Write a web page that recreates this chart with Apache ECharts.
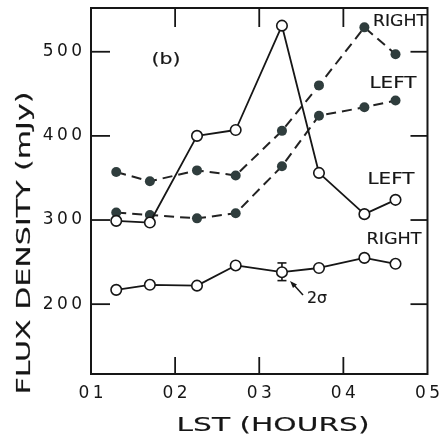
<!DOCTYPE html>
<html>
<head>
<meta charset="utf-8">
<script src="https://cdn.jsdelivr.net/npm/echarts@6/dist/echarts.min.js"></script>
<style>
  html, body { margin: 0; padding: 0; background: #fff; }
  #chart { width: 443px; height: 440px; }
</style>
</head>
<body>
<div id="chart"></div>
<script>
// Local sidereal time of each observation (hours)
const hours = [1.30, 1.70, 2.26, 2.72, 3.27, 3.71, 4.25, 4.62];
// Flux densities (mJy)
const leftOpen    = [299, 297, 400, 407, 531, 356, 307, 324];
const rightFilled = [357, 346, 359, 353, 406, 460, 529, 497];
const leftFilled  = [309, 306, 302, 308, 364, 424, 434, 442];
const rightOpen   = [217, 223, 222, 246, 238, 243, 255, 248];
// 2-sigma error bar: [hour, low, high]
const errBar = [[3.27, 228, 249]];

const xLabelValues = [1, 2, 3, 4, 5];
const xTickValues  = [2, 3, 4];
const yTickValues  = [200, 300, 400, 500];

const INK = '#161616';
const DOT = '#2f3d3d';
const FONT = '"DejaVu Sans", sans-serif';

const measureCtx = document.createElement('canvas').getContext('2d');
function stretchFor(text, size, width) {
  measureCtx.font = size + 'px ' + FONT;
  return width / measureCtx.measureText(text).width;
}
function spread(s) { return String(s).split('').join('\u2009'); }

function zip(xs, ys) { return xs.map((x, i) => [x, ys[i]]); }

function label(text, x, y, size, width, rotation) {
  return {
    type: 'text', x: x, y: y, rotation: rotation || 0,
    scaleX: width ? stretchFor(text, size, width) : 1,
    z: 20,
    style: {
      text: text, fill: INK, font: size + 'px ' + FONT,
      stroke: INK, lineWidth: 0.15,
      textAlign: 'center', textVerticalAlign: 'middle',
      align: 'center', verticalAlign: 'middle'
    }
  };
}

const openLine = (data) => ({
  type: 'line', data: data, symbol: 'circle', symbolSize: 10.5, z: 5,
  itemStyle: { color: '#fff', borderColor: INK, borderWidth: 1.6 },
  lineStyle: { color: INK, width: 1.8 }
});
const dashLine = (data) => ({
  type: 'line', data: data, symbol: 'circle', symbolSize: 10, z: 4,
  itemStyle: { color: DOT, borderColor: DOT, borderWidth: 0 },
  lineStyle: { color: '#222', width: 2, type: [10, 6] }
});

// Inward tick marks on all four sides of the frame, placed through the axis scales
const TICK = { stroke: INK, lineWidth: 1.8 };
function tickSeries(values, vertical) {
  return {
    type: 'custom', data: values.map(v => [v]), z: 6, silent: true,
    renderItem: function (params, api) {
      const cs = params.coordSys;
      const v = api.value(0);
      if (vertical) {
        const px = api.coord([v, 300])[0];
        const bottom = cs.y + cs.height;
        return { type: 'group', children: [
          { type: 'line', shape: { x1: px, y1: bottom, x2: px, y2: bottom - 17 }, style: TICK },
          { type: 'line', shape: { x1: px, y1: cs.y, x2: px, y2: cs.y + 19 }, style: TICK }
        ] };
      }
      const py = api.coord([3, v])[1];
      const right = cs.x + cs.width;
      return { type: 'group', children: [
        { type: 'line', shape: { x1: cs.x, y1: py, x2: cs.x + 19, y2: py }, style: TICK },
        { type: 'line', shape: { x1: right, y1: py, x2: right - 17, y2: py }, style: TICK }
      ] };
    }
  };
}

const tickLabel = { color: INK, fontSize: 17, fontFamily: FONT };

const chart = echarts.init(document.getElementById('chart'), null, { renderer: 'canvas' });
chart.setOption({
  animation: false,
  backgroundColor: '#fff',
  grid: { left: 91, right: 13, top: 8, bottom: 66, show: true, borderColor: INK, borderWidth: 2 },
  xAxis: {
    type: 'value', min: 1, max: 5,
    axisLine: { show: false }, splitLine: { show: false }, axisTick: { show: false },
    axisLabel: Object.assign({
      customValues: xLabelValues, margin: 11,
      formatter: v => spread('0' + v)
    }, tickLabel)
  },
  yAxis: {
    type: 'value', min: 117, max: 552,
    axisLine: { show: false }, splitLine: { show: false }, axisTick: { show: false },
    axisLabel: Object.assign({
      customValues: yTickValues, margin: 9,
      formatter: v => spread(v)
    }, tickLabel)
  },
  series: [
    tickSeries(xTickValues, true),
    tickSeries(yTickValues, false),
    dashLine(zip(hours, rightFilled)),
    dashLine(zip(hours, leftFilled)),
    openLine(zip(hours, leftOpen)),
    {
      type: 'custom', data: errBar, z: 3,
      encode: { x: 0, y: [1, 2] },
      renderItem: function (params, api) {
        const x = api.value(0);
        const lo = api.coord([x, api.value(1)]);
        const hi = api.coord([x, api.value(2)]);
        const w = 4.5;
        const st = { stroke: INK, lineWidth: 1.6 };
        return {
          type: 'group',
          children: [
            { type: 'line', shape: { x1: lo[0], y1: lo[1], x2: hi[0], y2: hi[1] }, style: st },
            { type: 'line', shape: { x1: lo[0] - w, y1: lo[1], x2: lo[0] + w, y2: lo[1] }, style: st },
            { type: 'line', shape: { x1: hi[0] - w, y1: hi[1], x2: hi[0] + w, y2: hi[1] }, style: st }
          ]
        };
      }
    },
    openLine(zip(hours, rightOpen))
  ],
  graphic: [
    label('FLUX DENSITY (mJy)', 25, 243, 20, 303, Math.PI / 2),
    label('LST (HOURS)', 273, 426, 20, 193),
    label('(b)', 166, 60, 15, 29),
    label('RIGHT', 400, 22, 15, 54),
    label('LEFT', 393, 84, 15, 47),
    label('LEFT', 391, 180, 15, 47),
    label('RIGHT', 394, 240, 15, 55),
    label('2σ', 317, 299, 16, 20),
    { type: 'line', z: 20, shape: { x1: 303, y1: 295, x2: 293, y2: 284 }, style: { stroke: INK, lineWidth: 1.5 } },
    { type: 'polygon', z: 20, shape: { points: [[290, 281], [297, 284.5], [293, 288]] }, style: { fill: INK } }
  ]
});
</script>
</body>
</html>
